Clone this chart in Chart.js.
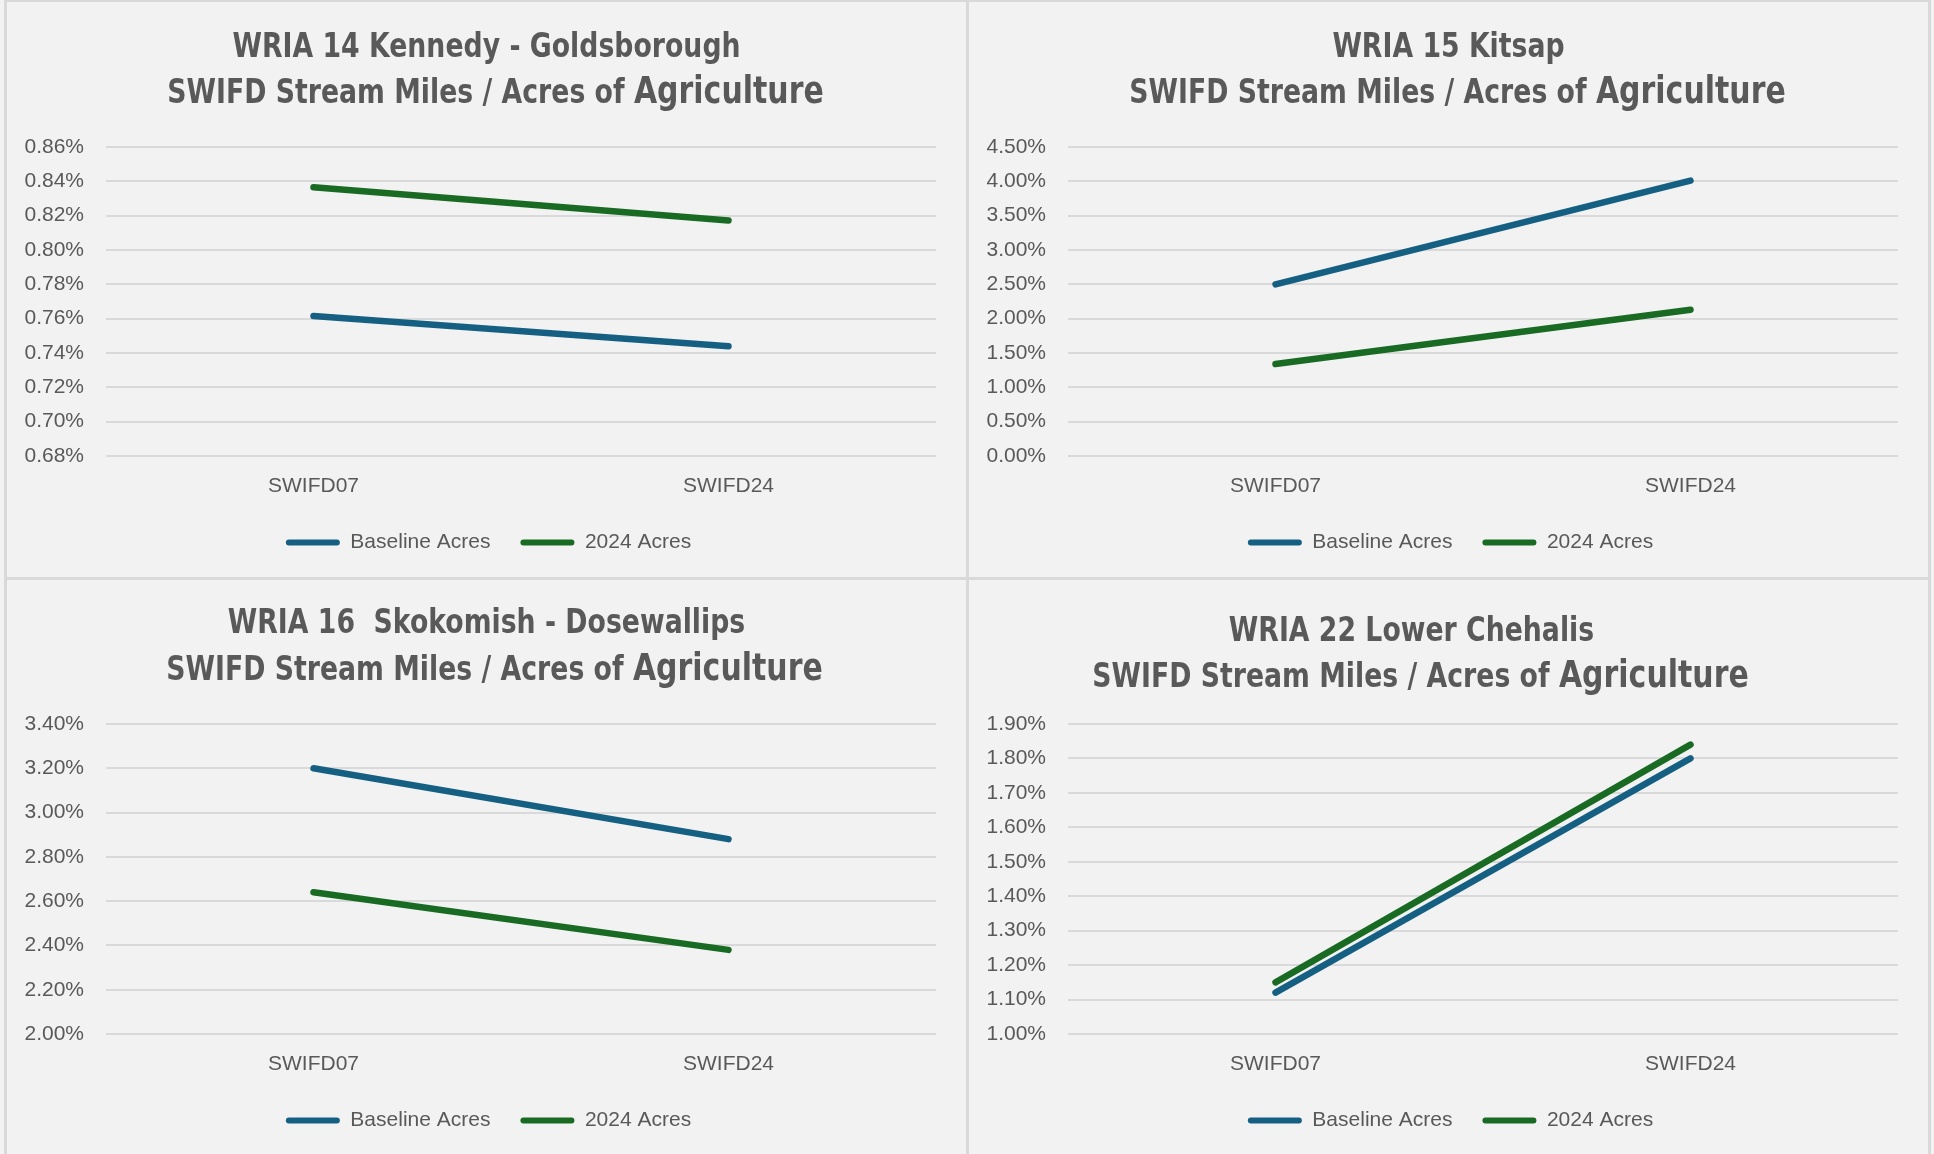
<!DOCTYPE html>
<html><head><meta charset="utf-8">
<script src="https://cdn.jsdelivr.net/npm/chart.js@4.4.0/dist/chart.umd.min.js"></script>
<style>
html,body{margin:0;padding:0;background:#f2f2f2;width:1934px;height:1154px;overflow:hidden;}
#wrap{position:absolute;left:4px;top:0px;width:1921px;height:1160px;background:#d9d9d9;padding:2px 3px 0 3px;display:grid;grid-template-columns:959px 959px;grid-template-rows:575px 575px;column-gap:3px;row-gap:3px;}
.panel{position:relative;background:#f2f2f2;width:959px;height:575px;}
canvas{display:block;}
</style></head>
<body>
<div id="wrap">
  <div class="panel"><canvas id="c14"></canvas></div>
  <div class="panel"><canvas id="c15"></canvas></div>
  <div class="panel"><canvas id="c16"></canvas></div>
  <div class="panel"><canvas id="c22"></canvas></div>
</div>
<script>
// ---------- data ----------
const categories = ['SWIFD07', 'SWIFD24'];
const seriesNames = ['Baseline Acres', '2024 Acres'];
const subtitleText = 'SWIFD Stream Miles / Acres of ';
const subtitleBig = 'Agriculture';

const wria14Title = 'WRIA 14 Kennedy - Goldsborough';
const wria14Baseline = [0.7615, 0.7439];
const wria14Acres2024 = [0.8366, 0.8172];
const wria14Ticks = [0.68, 0.70, 0.72, 0.74, 0.76, 0.78, 0.80, 0.82, 0.84, 0.86];

const wria15Title = 'WRIA 15 Kitsap';
const wria15Baseline = [2.50, 4.01];
const wria15Acres2024 = [1.34, 2.13];
const wria15Ticks = [0.00, 0.50, 1.00, 1.50, 2.00, 2.50, 3.00, 3.50, 4.00, 4.50];

const wria16Title = 'WRIA 16  Skokomish - Dosewallips';
const wria16Baseline = [3.20, 2.88];
const wria16Acres2024 = [2.64, 2.38];
const wria16Ticks = [2.00, 2.20, 2.40, 2.60, 2.80, 3.00, 3.20, 3.40];

const wria22Title = 'WRIA 22 Lower Chehalis';
const wria22Baseline = [1.12, 1.80];
const wria22Acres2024 = [1.15, 1.84];
const wria22Ticks = [1.00, 1.10, 1.20, 1.30, 1.40, 1.50, 1.60, 1.70, 1.80, 1.90];

// ---------- styles ----------
const BLUE = '#156082';
const GREEN = '#196B24';
const TEXT = '#595959';
const GRID = '#d9d9d9';
const BODY_FONT = "'Liberation Sans', Arial, sans-serif";
const TITLE_FONT = "'DejaVu Sans', 'Liberation Sans', sans-serif";

const panelTitle = {
  id: 'panelTitle',
  afterDraw(chart, args, o) {
    const ctx = chart.ctx;
    const cx = chart.width / 2;
    const f1 = 'bold ' + o.size + 'px ' + TITLE_FONT;
    const f2 = 'bold ' + o.bigSize + 'px ' + TITLE_FONT;
    ctx.save();
    ctx.fillStyle = TEXT;
    ctx.textBaseline = 'alphabetic';
    ctx.textAlign = 'left';
    // line 1
    ctx.save();
    ctx.translate(cx + o.dx1, o.y1);
    ctx.scale(o.sx, 1);
    ctx.font = f1;
    const w1 = ctx.measureText(o.line1).width;
    ctx.fillText(o.line1, -w1 / 2, 0);
    ctx.restore();
    // line 2 (mixed sizes)
    ctx.save();
    ctx.translate(cx + o.dx2, o.y2);
    ctx.scale(o.sx, 1);
    ctx.font = f1;
    const wa = ctx.measureText(o.line2a).width;
    ctx.font = f2;
    const wb = ctx.measureText(o.line2b).width;
    const x0 = -(wa + wb) / 2;
    ctx.font = f1;
    ctx.fillText(o.line2a, x0, 0);
    ctx.font = f2;
    ctx.fillText(o.line2b, x0 + wa, 0);
    ctx.restore();
    ctx.restore();
  }
};

function makeChart(id, title, baseline, acres, ticks, pos) {
  new Chart(document.getElementById(id), {
    type: 'line',
    data: {
      labels: categories,
      datasets: [
        { label: seriesNames[0], data: baseline, borderColor: BLUE, backgroundColor: BLUE,
          borderWidth: 6.5, borderCapStyle: 'round', pointRadius: 0, pointHoverRadius: 0, tension: 0 },
        { label: seriesNames[1], data: acres, borderColor: GREEN, backgroundColor: GREEN,
          borderWidth: 6.5, borderCapStyle: 'round', pointRadius: 0, pointHoverRadius: 0, tension: 0 }
      ]
    },
    plugins: [panelTitle],
    options: {
      responsive: true,
      maintainAspectRatio: false,
      animation: false,
      layout: { padding: { top: pos.top, right: 12, bottom: 14, left: 16 } },
      plugins: {
        tooltip: { enabled: false },
        title: { display: false },
        legend: {
          position: 'bottom',
          labels: {
            color: TEXT, font: { family: BODY_FONT, size: 21 },
            boxWidth: 54, boxHeight: 6, padding: 30,
            useBorderRadius: true, borderRadius: 3,
            generateLabels(chart) {
              return chart.data.datasets.map((d, i) => ({
                text: d.label, fillStyle: d.borderColor, strokeStyle: d.borderColor,
                lineWidth: 0, fontColor: TEXT, hidden: false, datasetIndex: i, borderRadius: 3
              }));
            }
          }
        },
        panelTitle: { line1: title, line2a: subtitleText, line2b: subtitleBig,
          size: 33, bigSize: 37, sx: 0.81, y1: pos.y1, y2: pos.y2, dx1: pos.dx1, dx2: pos.dx2 }
      },
      scales: {
        x: {
          offset: true,
          afterFit(scale) { scale.height = 46; },
          grid: { display: false, drawTicks: false },
          border: { display: false },
          ticks: { color: TEXT, font: { family: BODY_FONT, size: 21, lineHeight: 1.4 }, padding: 16, maxRotation: 0 }
        },
        y: {
          min: ticks[0], max: ticks[ticks.length - 1],
          afterBuildTicks(scale) { scale.ticks = ticks.map(v => ({ value: v })); },
          afterFit(scale) { scale.width = 83; },
          grid: { color: GRID, lineWidth: 2, drawTicks: false },
          border: { display: false },
          ticks: { color: TEXT, font: { family: BODY_FONT, size: 21 }, padding: 22,
            callback: v => Number(v).toFixed(2) + '%' }
        },
        yRight: {
          type: 'linear', position: 'right', display: true,
          afterFit(scale) { scale.width = 18; },
          grid: { display: false, drawTicks: false },
          border: { display: false },
          ticks: { display: false }
        }
      }
    }
  });
}

makeChart('c14', wria14Title, wria14Baseline, wria14Acres2024, wria14Ticks, { top: 145, y1: 55, y2: 101, dx1: 0, dx2: 9 });
makeChart('c15', wria15Title, wria15Baseline, wria15Acres2024, wria15Ticks, { top: 145, y1: 55, y2: 101, dx1: 0, dx2: 9 });
makeChart('c16', wria16Title, wria16Baseline, wria16Acres2024, wria16Ticks, { top: 144, y1: 53, y2: 100, dx1: 0, dx2: 8 });
makeChart('c22', wria22Title, wria22Baseline, wria22Acres2024, wria22Ticks, { top: 144, y1: 61, y2: 107, dx1: -37, dx2: -28 });
</script>
</body></html>
